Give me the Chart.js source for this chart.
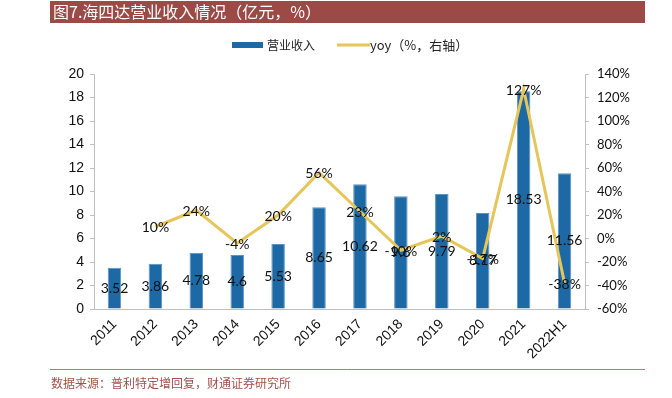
<!DOCTYPE html>
<html><head><meta charset="utf-8">
<script src="https://cdn.jsdelivr.net/npm/chart.js@4"></script>
<style>html,body{margin:0;padding:0;background:#fff;}#c{display:block;}</style>
</head><body>
<canvas id="c" width="672" height="398"></canvas>
<script>
const titleText = "图7.海四达营业收入情况（亿元，%）";
const sourceText = "数据来源：普利特定增回复，财通证券研究所";
const categories = ["2011","2012","2013","2014","2015","2016","2017","2018","2019","2020","2021","2022H1"];
const revenue = [3.52, 3.86, 4.78, 4.6, 5.53, 8.65, 10.62, 9.6, 9.79, 8.17, 18.53, 11.56];
const yoy = [null, 10, 24, -4, 20, 56, 23, -10, 2, -17, 127, -38];
const revenueLabel = "营业收入";
const yoyLabel = "yoy（%，右轴）";

const BAR = "#1c69a6", LINE = "#e6c65a", RED = "#9c4a46";
const CJK = '"Noto Sans CJK SC", sans-serif';

const decor = {
  id: "decor",
  beforeDraw(chart) {
    const ctx = chart.ctx;
    ctx.save();
    ctx.fillStyle = RED;
    ctx.fillRect(50, 1, 595, 22);
    ctx.fillStyle = "#fff";
    ctx.font = "16px " + CJK;
    ctx.textBaseline = "middle";
    ctx.textAlign = "left";
    ctx.fillText(titleText, 53, 12);
    // footer
    ctx.strokeStyle = "#b07a76";
    ctx.lineWidth = 1;
    ctx.beginPath(); ctx.moveTo(50, 369.5); ctx.lineTo(645, 369.5); ctx.stroke();
    ctx.fillStyle = "#a0524c";
    ctx.font = "12px " + CJK;
    ctx.fillText(sourceText, 51, 383);
    // legend
    ctx.fillStyle = BAR;
    ctx.fillRect(232, 42, 31, 6);
    ctx.fillStyle = "#222";
    ctx.font = "12px " + CJK;
    ctx.fillText(revenueLabel, 267, 45);
    ctx.strokeStyle = LINE; ctx.lineWidth = 3;
    ctx.beginPath(); ctx.moveTo(337, 45); ctx.lineTo(370, 45); ctx.stroke();
    ctx.fillStyle = "#222";
    ctx.font = "13px " + CJK;
    ctx.fillText(yoyLabel, 370, 45);
    ctx.restore();
  },
  afterDatasetsDraw(chart) {
    const ctx = chart.ctx;
    ctx.save();
    ctx.fillStyle = "#111";
    ctx.font = '14px Lato, "Liberation Sans", sans-serif';
    ctx.textAlign = "center";
    ctx.textBaseline = "middle";
    const bm = chart.getDatasetMeta(0);
    bm.data.forEach((el, i) => {
      const v = revenue[i];
      ctx.fillText(String(v), el.x, (el.y + el.base) / 2);
    });
    const lm = chart.getDatasetMeta(1);
    lm.data.forEach((el, i) => {
      const v = yoy[i];
      if (v === null) return;
      ctx.fillText(v + "%", el.x, el.y + 1);
    });
    ctx.restore();
  }
};

new Chart(document.getElementById("c"), {
  data: {
    labels: categories,
    datasets: [
      { type: "bar", label: revenueLabel, data: revenue, yAxisID: "y", backgroundColor: BAR,
        borderColor: "#5f93c0", borderWidth: {top:1,left:1,right:1,bottom:0},
        categoryPercentage: 1, barPercentage: 0.33, order: 2 },
      { type: "line", label: yoyLabel, data: yoy, yAxisID: "y1", borderColor: LINE, borderWidth: 3,
        pointRadius: 0, tension: 0, order: 1, spanGaps: false }
    ]
  },
  options: {
    responsive: false, animation: false,
    layout: { padding: { left: 50, right: 27, top: 74, bottom: 0 } },
    plugins: { legend: { display: false }, title: { display: false }, tooltip: { enabled: false } },
    scales: {
      x: {
        grid: { display: false, drawTicks: false },
        border: { display: true, color: "#bfbfbf" },
        ticks: { minRotation: 45, maxRotation: 45, padding: 7, color: "#111",
          font: { family: '"Liberation Sans", Arial, sans-serif', size: 14 } },
        afterFit(s) { s.height = 89; }
      },
      y: {
        position: "left", min: 0, max: 20,
        ticks: { stepSize: 2, padding: 6, color: "#111",
          font: { family: '"Liberation Sans", Arial, sans-serif', size: 14 } },
        grid: { display: true, drawOnChartArea: false, drawTicks: true, tickLength: 4, color: "#bfbfbf" },
        border: { display: true, color: "#bfbfbf" },
        afterFit(s) { s.width = 44; }
      },
      y1: {
        position: "right", min: -60, max: 140,
        ticks: { stepSize: 20, padding: 8, color: "#111", callback: v => v + "%",
          font: { family: 'Lato, "Liberation Sans", sans-serif', size: 13 } },
        grid: { display: true, drawOnChartArea: false, drawTicks: true, tickLength: 4, color: "#bfbfbf" },
        border: { display: true, color: "#bfbfbf" },
        afterFit(s) { s.width = 60; }
      }
    }
  },
  plugins: [decor]
});
</script>
</body></html>
